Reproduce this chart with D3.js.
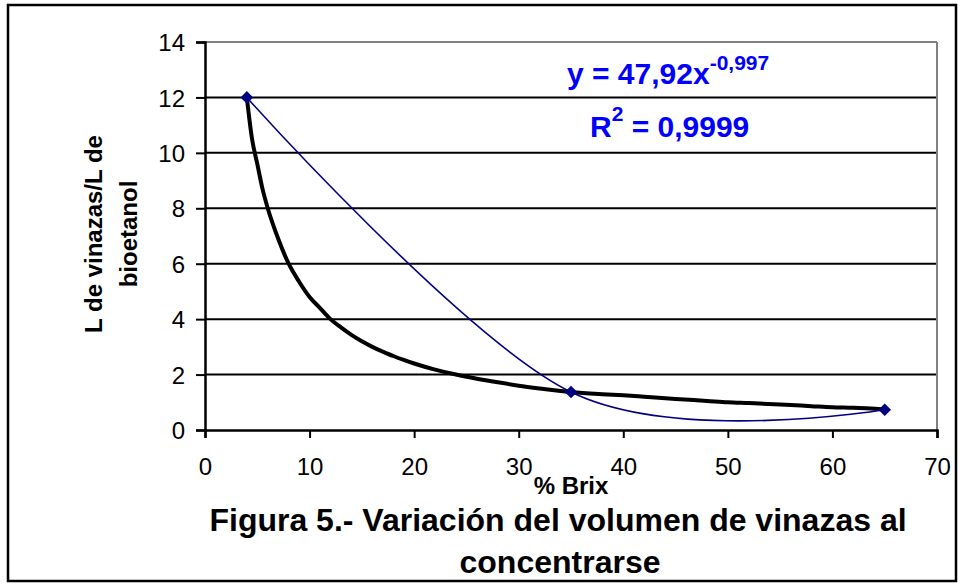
<!DOCTYPE html>
<meta charset="utf-8">
<style>
    body { margin: 0; background: #fff; }
    text { font-family: Arial, "Liberation Sans", sans-serif; }
    .tick-label { font-size: 24px; fill: #000; }
    .axis-title { font-size: 24px; font-weight: bold; fill: #000; }
    .fig-title { font-size: 32px; font-weight: bold; fill: #000; }
    .eq { font-size: 30px; font-weight: bold; fill: #0000ff; }
</style>
<svg width="964" height="588"></svg>
<script src="https://d3js.org/d3.v7.min.js"></script>
<script>

    // measured points (blue, with diamond markers)
    const brixPts = [4, 35, 65];
    const ratioPts = [12, 1.37, 0.73];

    // black curve
    const brixCurve = [4, 4.5, 5, 5.5, 6, 7, 8, 9, 10, 11, 12, 13, 14, 15, 16, 17, 18, 19, 20,
        22, 24, 26, 28, 30, 32, 34, 35, 38, 40, 42, 45, 48, 50, 52, 55, 58, 60, 62, 65];
    const ratioCurve = [12, 10.5, 9.6, 8.7, 8.0, 6.9, 6.0, 5.35, 4.8, 4.4, 4.0, 3.7, 3.43, 3.2, 3.0, 2.83, 2.67, 2.53, 2.4,
        2.18, 2.0, 1.85, 1.72, 1.6, 1.5, 1.41, 1.37, 1.29, 1.25, 1.2, 1.12, 1.05, 1.0, 0.97, 0.92, 0.86, 0.82, 0.8, 0.74];

    const xTicks = [0, 10, 20, 30, 40, 50, 60, 70];
    const yTicks = [0, 2, 4, 6, 8, 10, 12, 14];

    var svg = d3.select("svg");

    // outer frame
    svg.append("rect")
        .attr("x", 8).attr("y", 5)
        .attr("width", 948).attr("height", 576)
        .attr("fill", "none").attr("stroke", "#000").attr("stroke-width", 2.5);

    var x = d3.scaleLinear().domain([0, 70]).range([205, 937]);
    var y = d3.scaleLinear().domain([0, 14]).range([430, 42]);

    // gridlines
    svg.append("g").selectAll("line")
        .data(yTicks.filter(function(d) { return d > 0; }))
        .enter().append("line")
            .attr("x1", x(0)).attr("x2", x(70))
            .attr("y1", function(d) { return y(d); })
            .attr("y2", function(d) { return y(d); })
            .attr("stroke", function(d) { return d === 14 ? "#808080" : "#000"; })
            .attr("stroke-width", 2);

    // right edge of plot area
    svg.append("line")
        .attr("x1", x(70)).attr("x2", x(70))
        .attr("y1", y(14)).attr("y2", y(0))
        .attr("stroke", "#808080").attr("stroke-width", 2);

    // axes
    var xAxis = svg.append("g")
        .attr("transform", "translate(0," + y(0) + ")")
        .call(d3.axisBottom(x).tickValues(xTicks).tickSize(8).tickPadding(20));
    var yAxis = svg.append("g")
        .attr("transform", "translate(" + x(0) + ",0)")
        .call(d3.axisLeft(y).tickValues(yTicks).tickSize(9).tickPadding(11));

    [xAxis, yAxis].forEach(function(a) {
        a.select(".domain").attr("stroke", "#000").attr("stroke-width", 2.5);
        a.selectAll(".tick line").attr("stroke", "#000").attr("stroke-width", 2);
        a.selectAll(".tick text").attr("class", "tick-label").attr("font-size", null).attr("font-family", null);
    });
    yAxis.selectAll(".tick text").attr("dy", "0.36em");

    // black curve
    var line = d3.line()
        .x(function(d) { return x(d[0]); })
        .y(function(d) { return y(d[1]); })
        .curve(d3.curveMonotoneX);

    svg.append("path")
        .datum(d3.zip(brixCurve, ratioCurve))
        .attr("d", line)
        .attr("fill", "none")
        .attr("stroke", "#000")
        .attr("stroke-width", 4)
        .attr("stroke-linejoin", "round");

    // blue smoothed series with markers (excel-like smoothing)
    var smooth = d3.line()
        .x(function(d) { return x(d[0]); })
        .y(function(d) { return y(d[1]); })
        .curve(d3.curveCardinal.tension(0));

    var pts = d3.zip(brixPts, ratioPts);
    svg.append("path")
        .datum(pts)
        .attr("d", smooth)
        .attr("fill", "none")
        .attr("stroke", "#000080")
        .attr("stroke-width", 1.6);

    svg.append("g").selectAll("path")
        .data(pts)
        .enter().append("path")
            .attr("d", d3.symbol().type(d3.symbolSquare).size(80))
            .attr("transform", function(d) { return "translate(" + x(d[0]) + "," + y(d[1]) + ") rotate(45)"; })
            .attr("fill", "#000080");

    // equation
    var eq = svg.append("text").attr("class", "eq").attr("x", 567).attr("y", 84);
    eq.append("tspan").text("y = 47,92x");
    eq.append("tspan").attr("dy", -14).attr("font-size", 21).text("-0,997");

    var r2 = svg.append("text").attr("class", "eq").attr("x", 590).attr("y", 137);
    r2.append("tspan").text("R");
    r2.append("tspan").attr("dy", -16).attr("font-size", 21).text("2");
    r2.append("tspan").attr("dy", 16).text(" = 0,9999");

    // axis titles
    svg.append("text").attr("class", "axis-title")
        .attr("x", 571).attr("y", 494)
        .attr("text-anchor", "middle")
        .text("% Brix");

    var yl = svg.append("text").attr("class", "axis-title")
        .attr("transform", "translate(0,234) rotate(-90)")
        .attr("text-anchor", "middle");
    yl.append("tspan").attr("x", 0).attr("y", 102).text("L de vinazas/L de");
    yl.append("tspan").attr("x", 0).attr("y", 137).text("bioetanol");

    // figure caption
    svg.append("text").attr("class", "fig-title")
        .attr("x", 558).attr("y", 531).attr("text-anchor", "middle")
        .text("Figura 5.- Variación del volumen de vinazas al");
    svg.append("text").attr("class", "fig-title")
        .attr("x", 560).attr("y", 573).attr("text-anchor", "middle")
        .text("concentrarse");

</script>
